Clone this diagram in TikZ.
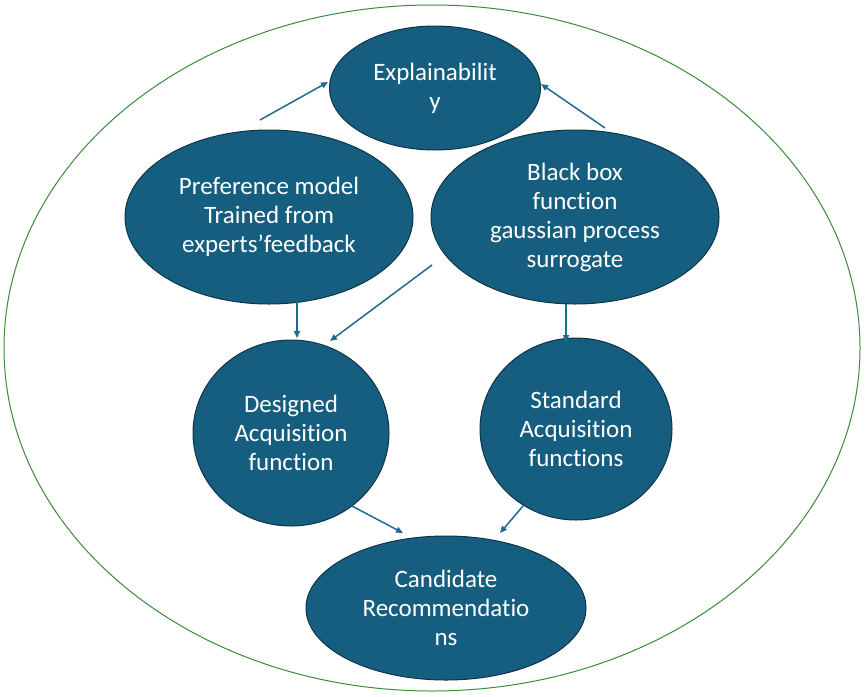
\documentclass[tikz,border=0pt]{standalone}
\usepackage{fontspec}
\setmainfont[Ligatures=NoCommon]{Carlito}
\usetikzlibrary{shapes.geometric,arrows.meta}
\definecolor{nodefill}{HTML}{165E80}
\definecolor{nodeedge}{HTML}{0E3447}
\definecolor{arrowcol}{HTML}{1F6A8F}
\definecolor{outergreen}{HTML}{3A8A3A}
\begin{document}
\begin{tikzpicture}[x=1pt,y=-1pt,
  bubble/.style={ellipse, fill=nodefill, draw=nodeedge, line width=1pt, inner sep=0pt,
    text=white, align=center, font=\fontsize{25}{29}\selectfont},
  conn/.style={draw=arrowcol, line width=1.5pt, -{Triangle[length=7pt,width=6pt]}}]
\useasboundingbox (0,0) rectangle (866,696);
\node[ellipse, draw=outergreen, line width=1pt, minimum width=856pt, minimum height=686pt, inner sep=0pt] (outer) at (432,348) {};
\node[bubble, minimum width=211pt, minimum height=124pt] (ex) at (435,88) {Explainabilit\\y};
\node[bubble, minimum width=288pt, minimum height=174pt] (pref) at (269,217) {Preference model\\Trained from\\experts’feedback};
\node[bubble, minimum width=288pt, minimum height=174pt] (bb) at (575,217) {Black box\\function\\gaussian process\\surrogate};
\node[bubble, minimum width=196pt, minimum height=186pt] (des) at (291,433) {Designed\\Acquisition\\function};
\node[bubble, minimum width=192pt, minimum height=182pt] (std) at (576,429) {Standard\\Acquisition\\functions};
\node[bubble, minimum width=280pt, minimum height=144pt] (cand) at (446,608) {Candidate\\Recommendatio\\ns};
\coordinate (t1) at (260,120); \coordinate (h1) at (328,82);
\coordinate (t2) at (605,128); \coordinate (h2) at (541,84);
\coordinate (t3) at (297,302); \coordinate (h3) at (297,338);
\coordinate (t4) at (432,265); \coordinate (h4) at (330,341);
\coordinate (t5) at (566,304); \coordinate (h5) at (566,342);
\coordinate (t6) at (352,506); \coordinate (h6) at (403,533);
\coordinate (t7) at (523,506); \coordinate (h7) at (500,533);
\draw[conn] (t1) -- (h1);
\draw[conn] (t2) -- (h2);
\draw[conn] (t3) -- (h3);
\draw[conn] (t4) -- (h4);
\draw[conn] (t5) -- (h5);
\draw[conn] (t6) -- (h6);
\draw[conn] (t7) -- (h7);
\end{tikzpicture}
\end{document}
